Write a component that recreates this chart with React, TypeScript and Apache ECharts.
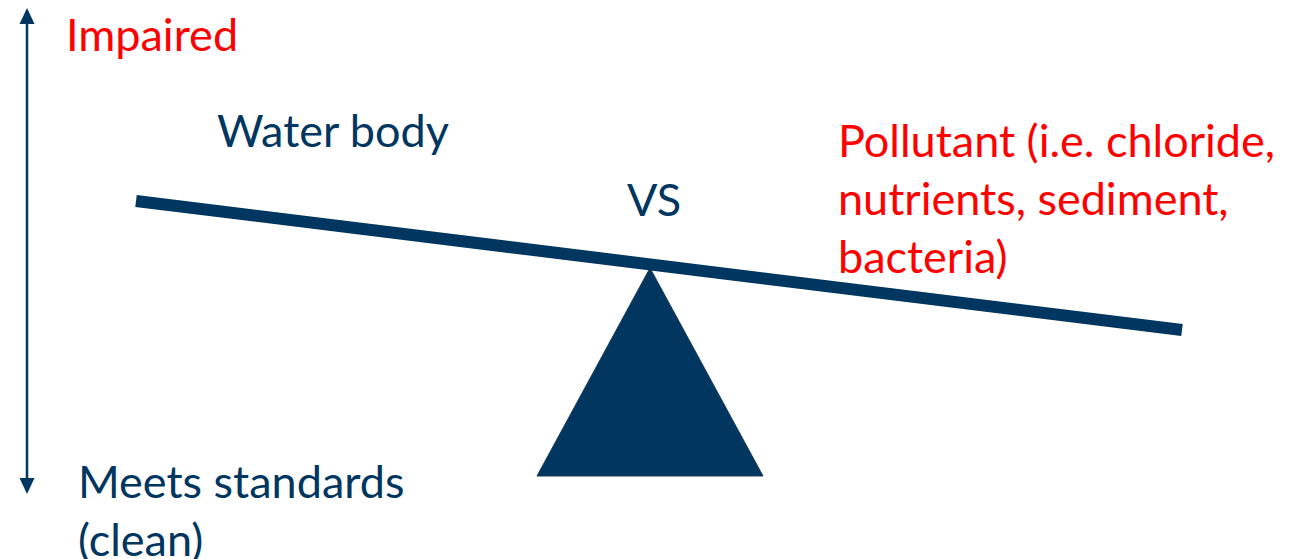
import React, { useEffect, useRef } from "react";
import * as echarts from "echarts";

const W = 1304;
const H = 559;
const NAVY = "#00365F";
const RED = "#FF0000";
const FONT = "Lato";

// Diagram geometry (in page units, mapped through hidden value axes)
const beamPoints: number[][] = [[136, 201], [1182, 330]];
const fulcrumPoints: number[][] = [[650, 268], [763, 476], [537, 476]];
const scaleArrow: number[][] = [[27, 8], [27, 494]];

// Texts
const impairedLines = ["Impaired"];
const waterLines = ["Water body"];
const vsLines = ["VS"];
const pollutantLines = ["Pollutant (i.e. chloride,", "nutrients, sediment,", "bacteria)"];
const cleanLines = ["Meets standards", "(clean)"];

export default function App() {
  const ref = useRef<HTMLDivElement>(null);
  useEffect(() => {
    if (!ref.current) return;
    const chart = echarts.init(ref.current, null, { renderer: "svg", width: W, height: H });
    const fontSize = 45;
    const lh = 58;
    const mkText = (lines: string[], x: number, y0: number, color: string) =>
      lines.map((t, i) => ({
        type: "text",
        x,
        y: y0 + i * lh,
        silent: true,
        style: {
          text: t,
          fill: color,
          font: `${fontSize}px ${FONT}`,
          textAlign: "left",
          textVerticalAlign: "middle",
          align: "left",
          verticalAlign: "middle",
        },
      }));

    chart.setOption({
      animation: false,
      backgroundColor: "#ffffff",
      grid: { left: 0, right: 0, top: 0, bottom: 0 },
      xAxis: { type: "value", min: 0, max: W, show: false },
      yAxis: { type: "value", min: 0, max: H, inverse: true, show: false },
      series: [
        {
          type: "line",
          data: beamPoints,
          symbol: "none",
          lineStyle: { color: NAVY, width: 12, cap: "butt" },
          silent: true,
        },
        {
          type: "custom",
          data: [0],
          silent: true,
          renderItem: (params: any, api: any) => {
            const pts = fulcrumPoints.map((p) => api.coord(p));
            const a = api.coord(scaleArrow[0]);
            const b = api.coord(scaleArrow[1]);
            const ah = 16;
            const aw = 7.5;
            return {
              type: "group",
              children: [
                {
                  type: "polygon",
                  shape: { points: pts },
                  style: { fill: NAVY, stroke: "#1a3a55", lineWidth: 1 },
                },
                {
                  type: "line",
                  shape: { x1: a[0], y1: a[1] + ah - 2, x2: b[0], y2: b[1] - ah + 2 },
                  style: { stroke: NAVY, lineWidth: 2.5 },
                },
                {
                  type: "polygon",
                  shape: { points: [[a[0], a[1]], [a[0] + aw, a[1] + ah], [a[0] - aw, a[1] + ah]] },
                  style: { fill: NAVY },
                },
                {
                  type: "polygon",
                  shape: { points: [[b[0], b[1]], [b[0] + aw, b[1] - ah], [b[0] - aw, b[1] - ah]] },
                  style: { fill: NAVY },
                },
              ],
            };
          },
        },
      ],
      graphic: [
        ...mkText(impairedLines, 66, 34, RED),
        ...mkText(waterLines, 217, 130, NAVY),
        ...mkText(vsLines, 627, 199, NAVY),
        ...mkText(pollutantLines, 838, 140, RED),
        ...mkText(cleanLines, 78, 481, NAVY),
      ],
    } as any);
    return () => chart.dispose();
  }, []);
  return (
    <div
      ref={ref}
      style={{ position: "fixed", left: 0, top: 0, width: W, height: H, background: "#fff" }}
    />
  );
}
